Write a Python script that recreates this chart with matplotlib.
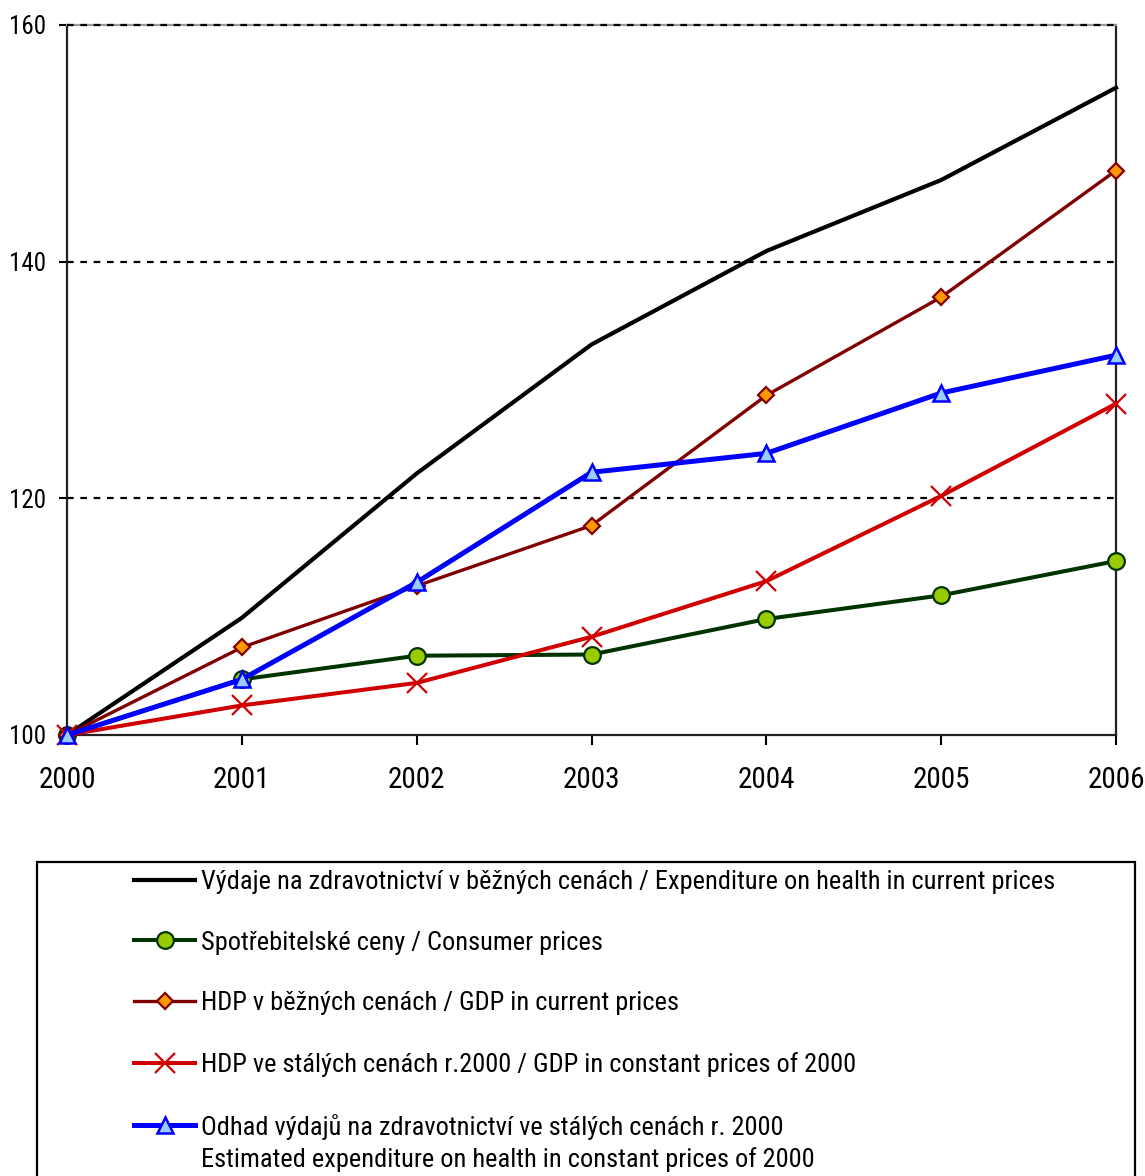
import matplotlib

matplotlib.use("Agg")
import matplotlib.pyplot as plt
from matplotlib import font_manager as fm
from matplotlib.patches import Rectangle

# --- data (index, 2000 = 100) ---
years = [2000, 2001, 2002, 2003, 2004, 2005, 2006]
health_current = [100, 109.9, 122.1, 133.0, 140.9, 146.9, 154.7]
consumer_prices = [100, 104.7, 106.7, 106.8, 109.8, 111.8, 114.7]
gdp_current = [100, 107.4, 112.6, 117.7, 128.7, 137.0, 147.7]
gdp_constant = [100, 102.5, 104.4, 108.3, 113.0, 120.2, 128.0]
health_constant = [100, 104.7, 112.9, 122.2, 123.8, 128.9, 132.1]

labels = [
    "Výdaje na zdravotnictví v běžných cenách / Expenditure on health in current prices",
    "Spotřebitelské ceny / Consumer prices",
    "HDP v běžných cenách / GDP in current prices",
    "HDP ve stálých cenách r.2000 / GDP in constant prices of 2000",
    "Odhad výdajů na zdravotnictví ve stálých cenách r. 2000",
]
label_second_line = "Estimated expenditure on health in constant prices of 2000"
y_ticks = [100, 120, 140, 160]


def _pick_font():
    # Arial Narrow look-alike if one is installed, else plain Liberation Sans
    names = {f.name for f in fm.fontManager.ttflist}
    for cand in ["Liberation Sans Narrow", "Arial Narrow", "Roboto Condensed",
                 "Open Sans Condensed", "Noto Sans Condensed", "DejaVu Sans Condensed"]:
        if cand in names:
            return cand, "normal", 1.0
    for f in fm.fontManager.ttflist:
        if f.name in ("Roboto", "Noto Sans", "Open Sans", "DejaVu Sans") and \
                f.stretch in ("condensed", "semi-condensed") and f.weight in (400, "normal") \
                and f.style == "normal":
            return f.name, f.stretch, 1.0
    return "Liberation Sans", "normal", 0.87


FONT, STRETCH, SCALE = _pick_font()
plt.rcParams["font.family"] = [FONT, "Liberation Sans", "DejaVu Sans"]
plt.rcParams["font.stretch"] = STRETCH

W, H = 1145, 1176
fig = plt.figure(figsize=(W / 100, H / 100), dpi=100)
ax = fig.add_axes([67 / W, 1 - 735 / H, (1116 - 67) / W, (735 - 25) / H])

ax.plot(years, health_current, color="black", lw=3.0, clip_on=False, zorder=3)
ax.plot(years, consumer_prices, color="#003300", lw=2.9, marker="o", ms=12,
        mfc="#99cc00", mec="#003300", mew=1.6, clip_on=False, zorder=3)
ax.plot(years, gdp_current, color="#800000", lw=2.4, marker="D", ms=8.5,
        mfc="#ff9900", mec="#800000", mew=1.6, clip_on=False, zorder=3)
ax.plot(years, gdp_constant, color="#d00000", lw=2.9, marker="x", ms=14,
        mec="#d00000", mew=1.6, clip_on=False, zorder=3)
ax.plot(years, health_constant, color="#0000ff", lw=3.6, marker="^", ms=12,
        mfc="#99ccff", mec="#0000ff", mew=1.8, clip_on=False, zorder=3)

ax.set_xlim(years[0], years[-1])
ax.set_ylim(y_ticks[0], y_ticks[-1])
ax.set_xticks(years)
ax.set_yticks(y_ticks)
ax.tick_params(axis="x", direction="out", length=7, width=1.5, pad=15,
               labelsize=21 * SCALE)
ax.tick_params(axis="y", direction="out", length=6, width=1.5, pad=9,
               labelsize=18 * SCALE)

for side in ["left", "bottom", "right"]:
    ax.spines[side].set_linewidth(1.6)
    ax.spines[side].set_color("#222222")
ax.spines["top"].set_color("#999999")
ax.spines["top"].set_linewidth(1.6)

for y in y_ticks[1:]:
    ax.axhline(y, color="black", lw=1.6, ls=(0, (3, 3)), zorder=2.7, clip_on=False)

# legend box runs off the bottom of the picture
fig.patches.append(Rectangle((37 / W, -0.02), (1135 - 37) / W, (1176 - 862) / H + 0.02,
                             transform=fig.transFigure, fill=False, lw=1.6,
                             edgecolor="black"))

fs = 19 * SCALE
fs_px = fs * 100 / 72
handles = ax.get_lines()
leg = fig.legend(handles, labels, loc="upper left",
                 bbox_to_anchor=(134 / W, 1 - 870 / H), frameon=False,
                 borderpad=0, borderaxespad=0, fontsize=fs,
                 handlelength=61 / fs_px, handletextpad=6 / fs_px,
                 labelspacing=1.39 / SCALE)

# second line of the last entry, under the first one (handle stays on line 1)
fig.canvas.draw()
bb = leg.get_texts()[-1].get_window_extent()
fig.text(bb.x0 / W, (bb.y0 - 7) / H, label_second_line, ha="left", va="top", fontsize=fs)

fig.savefig("out.png", dpi=100)
